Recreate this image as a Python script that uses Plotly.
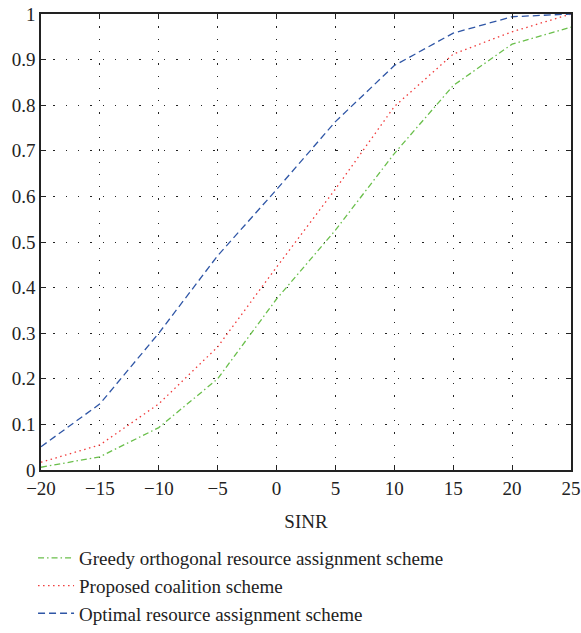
import plotly.graph_objects as go

sinr = [-20, -15, -10, -5, 0, 5, 10, 15, 20, 25]
greedy = [0.006, 0.029, 0.093, 0.20, 0.375, 0.526, 0.694, 0.843, 0.934, 0.971]
proposed = [0.017, 0.055, 0.145, 0.27, 0.445, 0.616, 0.797, 0.912, 0.961, 1.0]
optimal = [0.051, 0.145, 0.30, 0.47, 0.615, 0.764, 0.887, 0.958, 0.994, 1.0]

names = ["Greedy orthogonal resource assignment scheme",
         "Proposed coalition scheme",
         "Optimal resource assignment scheme"]
xticks = [-20, -15, -10, -5, 0, 5, 10, 15, 20, 25]
xticklabels = ["\u221220", "\u221215", "\u221210", "\u22125", "0", "5", "10", "15", "20", "25"]
yticks = [0, 0.1, 0.2, 0.3, 0.4, 0.5, 0.6, 0.7, 0.8, 0.9, 1]
yticklabels = ["0", "0.1", "0.2", "0.3", "0.4", "0.5", "0.6", "0.7", "0.8", "0.9", "1"]

FONT = "Liberation Serif"
FS = 19

fig = go.Figure()
fig.add_trace(go.Scatter(x=sinr, y=greedy, mode="lines", name=names[0], legendgroup="g",
                         line=dict(color="#6abf4b", width=1.3, dash="6px,3px,1.5px,3px")))
fig.add_trace(go.Scatter(x=sinr, y=proposed, mode="lines", name=names[1], legendgroup="p",
                         line=dict(color="#f03a3a", width=1.3, dash="1.5px,3.5px")))
fig.add_trace(go.Scatter(x=sinr, y=optimal, mode="lines", name=names[2], legendgroup="o",
                         line=dict(color="#2f56a6", width=1.3, dash="7px,4px")))

axis_common = dict(
    showline=True, linecolor="#222", linewidth=1.5, mirror="ticks",
    ticks="inside", ticklen=5, tickcolor="#222", tickwidth=1.3,
    showgrid=True, gridcolor="#222", gridwidth=1, griddash="1.3px,11px",
    zeroline=False, tickfont=dict(family=FONT, size=FS, color="#222"),
    automargin=False,
)

# margins t=14, b=0 -> plotting area 619px tall; axes occupy pixel rows 14..470
fig.update_xaxes(range=[-20, 25], tickvals=xticks, ticktext=xticklabels,
                 title=dict(text="SINR", font=dict(family=FONT, size=FS, color="#222"), standoff=17),
                 anchor="y", **axis_common)
fig.update_yaxes(range=[0, 1], tickvals=yticks, ticktext=yticklabels,
                 domain=[(633 - 470) / 619, 1], **axis_common)

fig.update_layout(
    width=581, height=633,
    margin=dict(l=41, r=10, t=14, b=0),
    plot_bgcolor="white", paper_bgcolor="white",
    showlegend=True,
    legend=dict(x=-0.015, y=(633 - 539) / 619, xanchor="left", yanchor="top",
                font=dict(family=FONT, size=FS, color="#222"),
                bgcolor="rgba(0,0,0,0)", itemwidth=36, tracegroupgap=0),
    font=dict(family=FONT, color="#222"),
)

fig.write_html("out.html")
